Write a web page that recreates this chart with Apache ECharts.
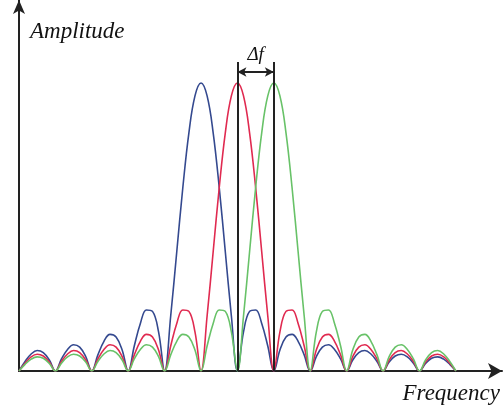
<!DOCTYPE html>
<html>
<head>
<meta charset="utf-8">
<script src="https://cdn.jsdelivr.net/npm/echarts@6/dist/echarts.min.js"></script>
<style>html,body{margin:0;padding:0;background:#fff}#c{width:503px;height:416px}</style>
</head>
<body>
<div id="c"></div>
<script>
// frequency samples, in units of Δf/6
const freq = [0,1,2,3,4,5,6,7,8,9,10,11,12,13,14,15,16,17,18,19,20,21,22,23,24,25,26,27,28,29,30,31,32,33,34,35,36,37,38,39,40,41,42,43,44,45,46,47,48,49,50,51,52,53,54,55,56,57,58,59,60,61,62,63,64,65,66,67,68,69,70,71,72];
const blueAmp = [0,0.033,0.059,0.071,0.064,0.038,0,0.042,0.075,0.091,0.083,0.050,0,0.056,0.103,0.127,0.118,0.073,0,0.087,0.165,0.212,0.207,0.136,0,0.191,0.414,0.637,0.827,0.955,1.000,
  0.955,0.827,0.637,0.414,0.191,0,0.136,0.207,0.212,0.165,0.087,0,0.073,0.118,0.127,0.103,0.056,0,0.050,0.083,0.091,0.075,0.042,0,0.038,0.064,0.071,0.059,0.033,0,0.031,0.052,0.058,0.049,0.027,0,0.026,0.044,0.049,0.041,0.023,0];
const redAmp = [0,0.027,0.049,0.058,0.052,0.031,0,0.033,0.059,0.071,0.064,0.038,0,0.042,0.075,0.091,0.083,0.050,0,0.056,0.103,0.127,0.118,0.073,0,0.087,0.165,0.212,0.207,0.136,0,0.191,0.414,0.637,0.827,0.955,1.000,
  0.955,0.827,0.637,0.414,0.191,0,0.136,0.207,0.212,0.165,0.087,0,0.073,0.118,0.127,0.103,0.056,0,0.050,0.083,0.091,0.075,0.042,0,0.038,0.064,0.071,0.059,0.033,0,0.031,0.052,0.058,0.049,0.027,0];
const greenAmp = [0,0.023,0.041,0.049,0.044,0.026,0,0.027,0.049,0.058,0.052,0.031,0,0.033,0.059,0.071,0.064,0.038,0,0.042,0.075,0.091,0.083,0.050,0,0.056,0.103,0.127,0.118,0.073,0,0.087,0.165,0.212,0.207,0.136,0,0.191,0.414,0.637,0.827,0.955,1.000,
  0.955,0.827,0.637,0.414,0.191,0,0.136,0.207,0.212,0.165,0.087,0,0.073,0.118,0.127,0.103,0.056,0,0.050,0.083,0.091,0.075,0.042,0,0.038,0.064,0.071,0.059,0.033,0];
const markerFreqs = [36, 42];   // centres of red and green carriers
const deltaLabel = 'Δf';

const pairs = arr => arr.map((v, i) => [freq[i], v]);
const serifItalic = {fontFamily: 'Liberation Serif', fontStyle: 'italic', color: '#111'};

const chart = echarts.init(document.getElementById('c'), null, {renderer: 'canvas'});
chart.setOption({
  animation: false,
  backgroundColor: '#fff',
  grid: {left: 19, right: 0, top: 0, bottom: 45},
  xAxis: {
    type: 'value', min: 0, max: 79.6,
    axisLine: {show: true, lineStyle: {color: '#222', width: 2}, symbol: ['none', 'arrow'], symbolSize: [12, 14]},
    axisTick: {show: false}, axisLabel: {show: false}, splitLine: {show: false},
    name: 'Frequency', nameLocation: 'end', nameGap: -2,
    nameTextStyle: Object.assign({fontSize: 23, align: 'right', verticalAlign: 'top', padding: [11, 0, 0, 0]}, serifItalic)
  },
  yAxis: {
    type: 'value', min: 0, max: 1.288,
    axisLine: {show: true, lineStyle: {color: '#222', width: 2}, symbol: ['none', 'arrow'], symbolSize: [9, 14]},
    axisTick: {show: false}, axisLabel: {show: false}, splitLine: {show: false},
    name: 'Amplitude', nameLocation: 'end', nameGap: -32,
    nameTextStyle: Object.assign({fontSize: 23, align: 'left', verticalAlign: 'middle', padding: [0, 0, 0, 11]}, serifItalic)
  },
  series: [
    {type: 'line', data: pairs(blueAmp), smooth: 0.4, showSymbol: false, lineStyle: {color: '#34498f', width: 1.6}},
    {type: 'line', data: pairs(redAmp), smooth: 0.4, showSymbol: false, lineStyle: {color: '#e02a50', width: 1.6}},
    {type: 'line', data: pairs(greenAmp), smooth: 0.4, showSymbol: false, lineStyle: {color: '#68c268', width: 1.6},
      markLine: {
        silent: true, animation: false,
        lineStyle: {color: '#222', width: 2, type: 'solid'},
        data: [
          [{coord: [markerFreqs[0], 0], symbol: 'none'}, {coord: [markerFreqs[0], 1.073], symbol: 'none'}],
          [{coord: [markerFreqs[1], 0], symbol: 'none'}, {coord: [markerFreqs[1], 1.073], symbol: 'none'}],
          [{coord: [markerFreqs[0], 1.038], symbol: 'arrow', symbolSize: [7, 9]},
           {coord: [markerFreqs[1], 1.038], symbol: 'arrow', symbolSize: [7, 9],
            label: {show: true, position: 'middle', formatter: deltaLabel, distance: 8, fontSize: 19,
              fontFamily: 'Liberation Serif', fontStyle: 'italic', color: '#111'}},
          ]
        ],
        label: {show: false}
      }}
  ]
});
</script>
</body>
</html>
